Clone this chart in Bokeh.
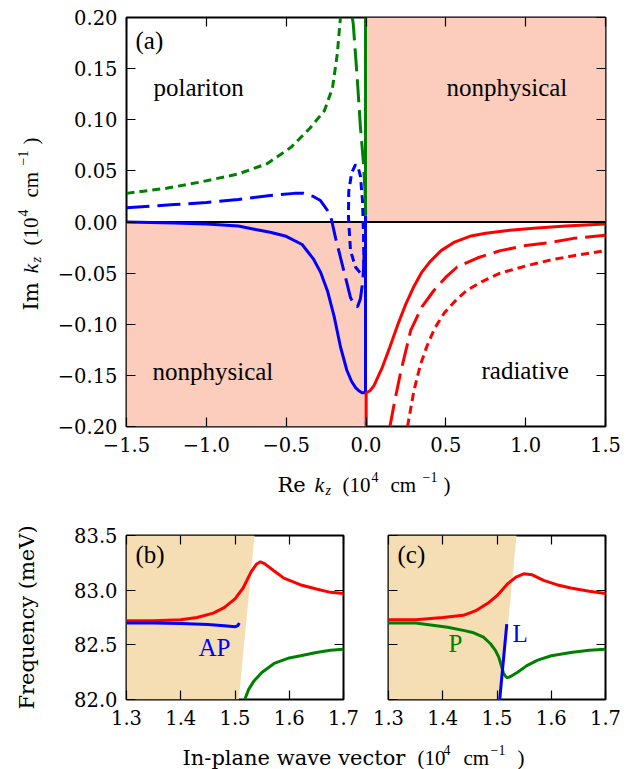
import math
from bokeh.plotting import figure
from bokeh.models import LinearAxis, FixedTicker, Label, Range1d
from bokeh.layouts import column, row
from bokeh.embed import file_html
from bokeh.resources import INLINE

# ---------------- data: panel (a) ----------------
a_xticks = [-1.5, -1.0, -0.5, 0.0, 0.5, 1.0, 1.5]
a_xtick_labels = ["\u22121.5", "\u22121.0", "\u22120.5", "0.0", "0.5", "1.0", "1.5"]
a_yticks = [-0.20, -0.15, -0.10, -0.05, 0.0, 0.05, 0.10, 0.15, 0.20]
a_ytick_labels = ["\u22120.20", "\u22120.15", "\u22120.10", "\u22120.05", "0.00",
                  "0.05", "0.10", "0.15", "0.20"]

# nonphysical quadrants (Re<0, Im<0) and (Re>0, Im>0)
quad_left = [-1.5, 0.0]
quad_right = [0.0, 1.5]
quad_bottom = [-0.2, 0.0]
quad_top = [0.0, 0.2]

zero_x = [-1.5, 1.5]
zero_y = [0.0, 0.0]

blue_solid_x = [-1.5, -1.2, -1.0, -0.8, -0.7, -0.6, -0.5, -0.4, -0.33, -0.285, -0.24, -0.2,
                -0.16, -0.12, -0.09, -0.065, -0.045, -0.025, -0.012, -0.003, -0.003]
blue_solid_y = [0.0, -0.001, -0.002, -0.004, -0.007, -0.010, -0.014, -0.022, -0.036, -0.049,
                -0.068, -0.092, -0.122, -0.145, -0.156, -0.162, -0.165, -0.167, -0.167,
                -0.166, 0.006]

blue_dash_x = [-1.5, -1.2, -1.0, -0.8, -0.6, -0.45, -0.39, -0.33, -0.285, -0.24, -0.22, -0.19,
               -0.14, -0.097, -0.07, -0.053, -0.035, -0.022, -0.015, -0.012]
blue_dash_y = [0.014, 0.017, 0.019, 0.022, 0.026, 0.028, 0.028, 0.025, 0.021, 0.011, 0.005, -0.016,
               -0.047, -0.074, -0.082, -0.083, -0.075, -0.060, -0.045, -0.030]

blue_dot_x = [-0.013, -0.016, -0.022, -0.035, -0.047, -0.066, -0.09, -0.108, -0.11, -0.097,
              -0.066, -0.035, -0.02]
blue_dot_y = [-0.045, -0.011, 0.021, 0.045, 0.052, 0.056, 0.048, 0.030, 0.005, -0.028,
              -0.044, -0.050, -0.047]

green_solid_x = [-0.003, -0.003]
green_solid_y = [0.006, 0.2]

green_dash_x = [-0.086, -0.08, -0.055, -0.035, -0.017, -0.006, -0.002]
green_dash_y = [0.2, 0.194, 0.141, 0.093, 0.060, 0.030, 0.008]

green_dot_x = [-1.5, -1.25, -1.04, -0.8, -0.62, -0.47, -0.35, -0.26, -0.21, -0.18, -0.16]
green_dot_y = [0.028, 0.033, 0.039, 0.047, 0.057, 0.073, 0.092, 0.109, 0.131, 0.164, 0.2]

red_solid_x = [0.001, 0.001, 0.025, 0.05, 0.1, 0.15, 0.2, 0.25, 0.3, 0.35, 0.4, 0.47, 0.55,
               0.65, 0.75, 0.9, 1.05, 1.25, 1.5]
red_solid_y = [-0.2, -0.167, -0.165, -0.160, -0.143, -0.122, -0.100, -0.080, -0.063, -0.049,
               -0.039, -0.028, -0.020, -0.014, -0.011, -0.008, -0.006, -0.004, -0.002]

red_dash_x = [0.15, 0.18, 0.22, 0.28, 0.35, 0.425, 0.5, 0.571, 0.7, 0.842, 1.0, 1.155, 1.3, 1.5]
red_dash_y = [-0.2, -0.175, -0.145, -0.106, -0.083, -0.067, -0.054, -0.044, -0.035, -0.028,
              -0.023, -0.020, -0.016, -0.013]

red_dot_x = [0.26, 0.3, 0.34, 0.38, 0.43, 0.49, 0.56, 0.63, 0.73, 0.84, 1.0, 1.16, 1.3, 1.5]
red_dot_y = [-0.2, -0.165, -0.14, -0.122, -0.104, -0.089, -0.077, -0.067, -0.058, -0.050,
             -0.043, -0.037, -0.033, -0.028]

# ---------------- data: panels (b), (c) ----------------
bc_xticks = [1.3, 1.4, 1.5, 1.6, 1.7]
bc_xtick_labels = ["1.3", "1.4", "1.5", "1.6", "1.7"]
bc_yticks = [82.0, 82.5, 83.0, 83.5]
bc_ytick_labels = ["82.0", "82.5", "83.0", "83.5"]

light_x = [1.3, 1.3, 1.536, 1.507]
light_y = [82.0, 83.5, 83.5, 82.0]

b_red_x = [1.30, 1.35, 1.40, 1.43, 1.46, 1.48, 1.50, 1.515, 1.53, 1.54, 1.547, 1.555, 1.571,
           1.59, 1.62, 1.65, 1.676, 1.70]
b_red_y = [82.72, 82.72, 82.73, 82.75, 82.79, 82.84, 82.92, 83.02, 83.17, 83.24, 83.26, 83.24,
           83.18, 83.11, 83.05, 83.01, 82.98, 82.97]
b_blue_x = [1.30, 1.35, 1.40, 1.45, 1.48, 1.50, 1.505, 1.508]
b_blue_y = [82.70, 82.70, 82.695, 82.685, 82.675, 82.665, 82.675, 82.70]
b_green_x = [1.518, 1.525, 1.535, 1.55, 1.572, 1.60, 1.621, 1.65, 1.676, 1.70]
b_green_y = [82.0, 82.09, 82.17, 82.25, 82.33, 82.38, 82.40, 82.43, 82.45, 82.46]

c_red_x = [1.30, 1.35, 1.40, 1.438, 1.46, 1.483, 1.50, 1.52, 1.535, 1.549, 1.565, 1.586, 1.61,
           1.636, 1.67, 1.70]
c_red_y = [82.73, 82.73, 82.75, 82.77, 82.81, 82.88, 82.95, 83.06, 83.12, 83.15, 83.14, 83.09,
           83.05, 83.02, 82.99, 82.97]
c_green_x = [1.30, 1.35, 1.409, 1.44, 1.457, 1.475, 1.488, 1.497, 1.503, 1.508, 1.512, 1.516,
             1.519, 1.525, 1.538, 1.555, 1.575, 1.60, 1.636, 1.67, 1.70]
c_green_y = [82.70, 82.70, 82.66, 82.63, 82.61, 82.57, 82.51, 82.45, 82.39, 82.31, 82.24, 82.21,
             82.20, 82.21, 82.25, 82.31, 82.36, 82.40, 82.43, 82.45, 82.46]
c_blue_x = [1.505, 1.518]
c_blue_y = [82.0, 82.69]

# ---------------- styling ----------------
BLUE, RED, GREEN = "#0000FF", "#FF0000", "#008000"
SALMON = "#FCCDBC"
WHEAT = "#F5DEB3"
TICK_FONT = "DejaVu Serif"
TICK_SIZE = 19.5
LABEL_FONT = "DejaVu Serif"
LABEL_SIZE = 21
MATH_FONT = "Liberation Serif"
MATH_SIZE = 21
SUP_SIZE = 14
ANNO_FONT = "Liberation Serif"
ANNO_SIZE = 25
LW = 3
DASH = "23 8"
DOT = "8 5"
BASE_FIX = 0.22   # empirical baseline correction, fraction of font size


def px(v):
    return "%gpx" % v


def style_axes(p, xticks, xlabels, yticks, ylabels, show_y=True):
    xax, yax = p.below[0], p.left[0]
    xax.ticker = FixedTicker(ticks=xticks)
    yax.ticker = FixedTicker(ticks=yticks)
    xax.major_label_overrides = dict(zip(xticks, xlabels))
    yax.major_label_overrides = dict(zip(yticks, ylabels))
    for ax in (xax, yax):
        ax.axis_line_color = None
        ax.major_tick_in = 9
        ax.major_tick_out = 0
        ax.major_tick_line_width = 1.2
        ax.major_tick_line_color = "black"
        ax.minor_tick_line_color = None
        ax.major_label_text_font = TICK_FONT
        ax.major_label_text_font_size = px(TICK_SIZE)
        ax.major_label_text_color = "black"
    xax.major_label_standoff = 10
    yax.major_label_standoff = 9
    if not show_y:
        yax.major_label_text_font_size = "0px"
        yax.major_label_text_color = None
        yax.major_label_standoff = 0
    for loc, ticks in (("above", xticks), ("right", yticks)):
        ax = LinearAxis(ticker=FixedTicker(ticks=ticks), axis_line_color=None,
                        major_tick_in=9, major_tick_out=0, major_tick_line_width=1.2,
                        minor_tick_line_color=None, major_label_text_font_size="0px",
                        major_label_text_color=None, major_label_standoff=0)
        p.add_layout(ax, loc)
    p.outline_line_color = "black"
    p.outline_line_width = 2
    p.outline_line_alpha = 1.0
    p.xgrid.visible = False
    p.ygrid.visible = False
    p.background_fill_color = "white"
    p.border_fill_color = "white"


def panel_text(p, s, x, y, color="black", size=ANNO_SIZE):
    """Text inside a panel; x, y = baseline start in px from the frame's bottom-left."""
    p.add_layout(Label(x=x, y=y + BASE_FIX * size, x_units="screen", y_units="screen",
                       text=s, text_color=color, text_font=ANNO_FONT,
                       text_font_size=px(size), text_align="left",
                       text_baseline="alphabetic"))


def page_text(f, s, x, y, font, size, style="normal", rotated=False, align="left"):
    """Text in a label figure whose data coordinates are page pixels (y down)."""
    if rotated:
        x = x - BASE_FIX * size
        ang = math.pi / 2
    else:
        y = y - BASE_FIX * size
        ang = 0.0
    f.add_layout(Label(x=x, y=y, x_units="data", y_units="data", text=s, text_color="black",
                       text_font=font, text_font_size=px(size), text_font_style=style,
                       text_align=align, text_baseline="alphabetic", angle=ang))


def label_fig(x0, x1, y0, y1, left, right, top, bottom):
    """Blank figure whose data coordinates are page pixels (y downward)."""
    f = figure(frame_width=x1 - x0, frame_height=y1 - y0, min_border_left=left,
               min_border_right=right, min_border_top=top, min_border_bottom=bottom,
               x_range=Range1d(x0, x1), y_range=Range1d(y1, y0), title=None,
               toolbar_location=None, output_backend="svg",
               x_axis_location=None, y_axis_location=None)
    f.outline_line_color = None
    f.xgrid.visible = False
    f.ygrid.visible = False
    f.background_fill_color = "white"
    f.border_fill_color = "white"
    return f


def kz_pieces(word):
    # (text, left x in page px for the horizontal layout, raise px, font, size, style)
    return [
        (word, 277, 0, LABEL_FONT, LABEL_SIZE, "normal"),
        ("k", 314, 0, MATH_FONT, 22, "italic"),
        ("z", 325, -4, MATH_FONT, SUP_SIZE, "italic"),
        ("(10", 342, 0, MATH_FONT, MATH_SIZE, "normal"),
        ("4", 371, 9, MATH_FONT, SUP_SIZE, "normal"),
        ("cm", 390, 0, MATH_FONT, MATH_SIZE, "normal"),
        ("\u22121", 422, 9, MATH_FONT, SUP_SIZE, "normal"),
        (")", 443, 0, MATH_FONT, MATH_SIZE, "normal"),
    ]


# ---------------- panel (a) ----------------
pa = figure(frame_width=479, frame_height=409, min_border_left=74, min_border_right=32,
            min_border_top=17, min_border_bottom=36, x_range=Range1d(-1.5, 1.5),
            y_range=Range1d(-0.2, 0.2), toolbar_location=None, output_backend="svg")
style_axes(pa, a_xticks, a_xtick_labels, a_yticks, a_ytick_labels)

pa.quad(left=quad_left, right=quad_right, bottom=quad_bottom, top=quad_top,
        fill_color=SALMON, line_color=None)
pa.line(zero_x, zero_y, line_color="black", line_width=2)

pa.line(green_dot_x, green_dot_y, line_color=GREEN, line_width=LW, line_dash=DOT)
pa.line(green_dash_x, green_dash_y, line_color=GREEN, line_width=LW, line_dash=DASH)
pa.line(green_solid_x, green_solid_y, line_color=GREEN, line_width=LW)
pa.line(blue_dash_x, blue_dash_y, line_color=BLUE, line_width=LW, line_dash=DASH)
pa.line(blue_dot_x, blue_dot_y, line_color=BLUE, line_width=LW, line_dash=DOT)
pa.line(blue_solid_x, blue_solid_y, line_color=BLUE, line_width=LW)
pa.line(red_dash_x, red_dash_y, line_color=RED, line_width=LW, line_dash=DASH)
pa.line(red_dot_x, red_dot_y, line_color=RED, line_width=LW, line_dash=DOT)
pa.line(red_solid_x, red_solid_y, line_color=RED, line_width=LW)

panel_text(pa, "(a)", 9, 381)
panel_text(pa, "polariton", 27, 334)
panel_text(pa, "nonphysical", 320, 334)
panel_text(pa, "nonphysical", 26, 50)
panel_text(pa, "radiative", 355, 51)

# y label of (a): page x 0..52, page y 17..426
ya = label_fig(0, 52, 17, 426, 0, 0, 17, 36)
for s, x, r, font, size, st in kz_pieces("Im"):
    page_text(ya, s, 35 - r, 310 - (x - 277), font, size, st, rotated=True)

# x label of (a): page x 126..605, page y 462..505
xa = label_fig(126, 605, 462, 505, 126, 32, 0, 0)
for s, x, r, font, size, st in kz_pieces("Re"):
    page_text(xa, s, x, 489 - r, font, size, st)

# ---------------- panel (b) ----------------
pb = figure(frame_width=217, frame_height=164, min_border_left=126, min_border_right=22,
            min_border_top=30, min_border_bottom=30, x_range=Range1d(1.3, 1.7),
            y_range=Range1d(82.0, 83.5), toolbar_location=None, output_backend="svg")
style_axes(pb, bc_xticks, bc_xtick_labels, bc_yticks, bc_ytick_labels)
yb_axis = pb.left[0]
yb_axis.axis_label = "Frequency (meV)"
yb_axis.axis_label_text_font = LABEL_FONT
yb_axis.axis_label_text_font_size = px(LABEL_SIZE)
yb_axis.axis_label_text_font_style = "normal"
yb_axis.axis_label_text_color = "black"
yb_axis.axis_label_standoff = 32
pb.patch(light_x, light_y, fill_color=WHEAT, line_color=None)
pb.line(b_green_x, b_green_y, line_color=GREEN, line_width=LW)
pb.line(b_red_x, b_red_y, line_color=RED, line_width=LW)
pb.line(b_blue_x, b_blue_y, line_color=BLUE, line_width=LW)
panel_text(pb, "(b)", 9, 140)
panel_text(pb, "AP", 72, 47, color=BLUE)

# ---------------- panel (c) ----------------
pc = figure(frame_width=217, frame_height=164, min_border_left=23, min_border_right=32,
            min_border_top=30, min_border_bottom=30, x_range=Range1d(1.3, 1.7),
            y_range=Range1d(82.0, 83.5), toolbar_location=None, output_backend="svg")
style_axes(pc, bc_xticks, bc_xtick_labels, bc_yticks, bc_ytick_labels, show_y=False)
pc.patch(light_x, light_y, fill_color=WHEAT, line_color=None)
pc.line(c_red_x, c_red_y, line_color=RED, line_width=LW)
pc.line(c_green_x, c_green_y, line_color=GREEN, line_width=LW)
pc.line(c_blue_x, c_blue_y, line_color=BLUE, line_width=LW)
panel_text(pc, "(c)", 9, 140)
panel_text(pc, "P", 60, 51, color=GREEN)
panel_text(pc, "L", 124, 61, color=BLUE)

# shared x label of (b), (c): page x 126..605, page y 729..769
xb = label_fig(126, 605, 729, 769, 126, 32, 0, 0)
bottom_pieces = [
    ("In-plane wave vector", 182, 0, LABEL_FONT, LABEL_SIZE, "normal"),
    ("(10", 417, 0, MATH_FONT, MATH_SIZE, "normal"),
    ("4", 443, 9, MATH_FONT, SUP_SIZE, "normal"),
    ("cm", 463, 0, MATH_FONT, MATH_SIZE, "normal"),
    ("\u22121", 490, 9, MATH_FONT, SUP_SIZE, "normal"),
    (")", 517, 0, MATH_FONT, MATH_SIZE, "normal"),
]
for s, x, r, font, size, st in bottom_pieces:
    page_text(xb, s, x, 762 - r, font, size, st)

layout = column(row(ya, pa), xa, row(pb, pc), xb)
open("out.html", "w").write(file_html(layout, INLINE))
